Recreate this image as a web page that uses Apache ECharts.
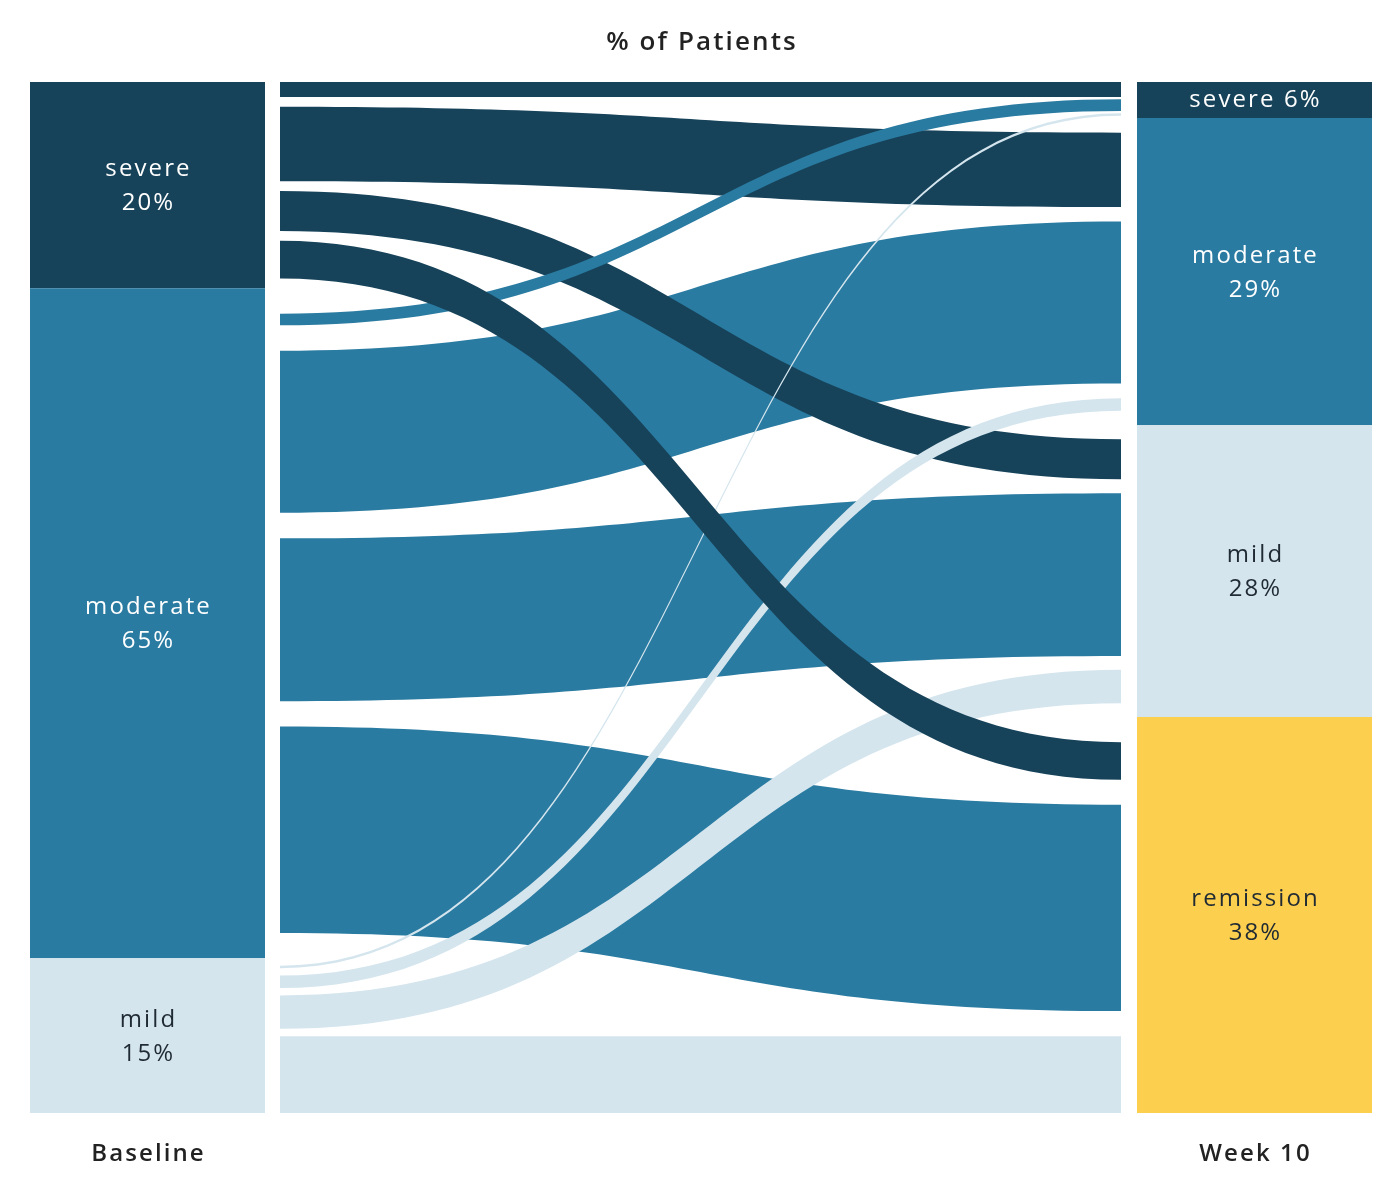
<!DOCTYPE html>
<html><head><meta charset="utf-8">
<script src="https://cdn.jsdelivr.net/npm/echarts@6/dist/echarts.min.js"></script>
<style>html,body{margin:0;padding:0;background:#fff}#c{width:1400px;height:1190px}</style>
</head><body><div id="c"></div>
<script>
// ---- data ----
const chartTitle = '% of Patients';
const columnNames = ['Baseline', 'Week 10'];
const baselineStates = ['severe', 'moderate', 'mild'];
const week10States = ['severe', 'moderate', 'mild', 'remission'];
const baselineLabels = ['20%', '65%', '15%'];
const week10Labels = ['6%', '29%', '28%', '38%'];
// % of all patients moving from a baseline state to each week-10 state
// (order: severe, moderate, mild, remission)
const fromSevere = [1.8, 8.9, 4.8, 4.5];
const fromModerate = [1.4, 19.4, 19.5, 24.7];
const fromMild = [0.3, 1.5, 4.0, 9.2];

// ---- styles / layout constants ----
const flows = [fromSevere, fromModerate, fromMild];
const COLORS = {severe: '#17435a', moderate: '#2a7ba1', mild: '#d4e5ee', remission: '#fdcf4f'};
const LABEL_COLORS = {severe: '#ffffff', moderate: '#ffffff', mild: '#1f2a33', remission: '#1f2a33'};
const FONT = '"Open Sans", "Noto Sans", sans-serif';
const K = 0.81; // flow band thickness relative to node size
const X = {l0: 0, l1: 235 / 1342, f0: 250 / 1342, f1: 1091 / 1342, r0: 1107 / 1342, r1: 1};

function stack(values) {
  let y = 0;
  return values.map(v => { const n = {top: y, value: v}; y += v; return n; });
}
const sum = a => a.reduce((s, v) => s + v, 0);
const leftNodes = stack(flows.map(sum));
const rightNodes = stack(week10States.map((_, j) => sum(flows.map(r => r[j]))));
const TOTAL = sum(flows.map(sum));

function distribute(node, vals, idx, count) {
  const thick = vals.map(v => v * K);
  const free = node.value - sum(thick);
  const slots = (vals.length - 1) + (idx > 0 ? 1 : 0) + (idx < count - 1 ? 1 : 0);
  const gap = free / slots;
  let y = node.top + (idx > 0 ? gap : 0);
  return thick.map(t => { const s = {y0: y, y1: y + t}; y += t + gap; return s; });
}
const leftPos = leftNodes.map((n, i) => distribute(n, flows[i], i, leftNodes.length));
const rightPos = rightNodes.map((n, j) => distribute(n, flows.map(r => r[j]), j, rightNodes.length));

const drawOrder = [[1,1],[1,2],[1,3],[0,0],[0,1],[0,2],[1,0],[2,0],[2,1],[2,2],[2,3],[0,3]];

const nodeItems = [];
leftNodes.forEach((n, i) => nodeItems.push([0, i]));
rightNodes.forEach((n, j) => nodeItems.push([1, j]));

const option = {
  animation: false,
  backgroundColor: '#ffffff',
  grid: {left: 30, right: 28, top: 82, bottom: 77},
  xAxis: {type: 'value', min: 0, max: 1, show: false},
  yAxis: {type: 'value', min: 0, max: TOTAL, inverse: true, show: false},
  series: [
    {
      type: 'custom', coordinateSystem: 'cartesian2d', silent: true, clip: false,
      data: drawOrder,
      renderItem: function (params, api) {
        const i = api.value(0), j = api.value(1);
        const L = leftPos[i][j], R = rightPos[j][i];
        const a = api.coord([X.f0, L.y0]), b = api.coord([X.f1, R.y0]);
        const c = api.coord([X.f1, R.y1]), d = api.coord([X.f0, L.y1]);
        const xm = (a[0] + b[0]) / 2;
        const p = 'M' + a[0] + ',' + a[1] +
          ' C' + xm + ',' + a[1] + ' ' + xm + ',' + b[1] + ' ' + b[0] + ',' + b[1] +
          ' L' + c[0] + ',' + c[1] +
          ' C' + xm + ',' + c[1] + ' ' + xm + ',' + d[1] + ' ' + d[0] + ',' + d[1] + ' Z';
        return {type: 'path', shape: {pathData: p}, style: {fill: COLORS[baselineStates[i]]}};
      }
    },
    {
      type: 'custom', coordinateSystem: 'cartesian2d', silent: true, clip: false,
      data: nodeItems,
      renderItem: function (params, api) {
        const col = api.value(0), idx = api.value(1);
        const node = col === 0 ? leftNodes[idx] : rightNodes[idx];
        const state = col === 0 ? baselineStates[idx] : week10States[idx];
        const pct = col === 0 ? baselineLabels[idx] : week10Labels[idx];
        const x0 = col === 0 ? X.l0 : X.r0, x1 = col === 0 ? X.l1 : X.r1;
        const p0 = api.coord([x0, node.top]), p1 = api.coord([x1, node.top + node.value]);
        const h = p1[1] - p0[1];
        const small = h < 60;
        const children = [
          {type: 'rect', shape: {x: p0[0], y: p0[1], width: p1[0] - p0[0], height: h},
           style: {fill: COLORS[state]}},
          {type: 'text', x: (p0[0] + p1[0]) / 2 + 1, y: (p0[1] + p1[1]) / 2 + (small ? 0 : 1),
           style: {text: small ? state + ' ' + pct : state + '\n' + pct,
                   fill: LABEL_COLORS[state], fontFamily: FONT, fontSize: 24, lineHeight: 34,
                   align: 'center', verticalAlign: 'middle'}}
        ];
        if (idx === 0) {
          const bottom = api.coord([x0, TOTAL]);
          children.push({type: 'text', x: (p0[0] + p1[0]) / 2 + 1, y: bottom[1] + 41,
            style: {text: columnNames[col], fill: '#222222', fontFamily: FONT, fontSize: 24,
                    fontWeight: 600, align: 'center', verticalAlign: 'middle'}});
        }
        if (col === 0 && idx === 0) {
          const top = api.coord([0.5, 0]);
          children.push({type: 'text', x: top[0] + 1, y: top[1] - 39,
            style: {text: chartTitle, fill: '#222222', fontFamily: FONT, fontSize: 26,
                    fontWeight: 600, align: 'center', verticalAlign: 'middle'}});
        }
        return {type: 'group', children: children};
      }
    }
  ]
};

const chart = echarts.init(document.getElementById('c'), null, {renderer: 'canvas'});
chart.setOption(option);
// the reference uses slightly tracked-out lettering: apply to the canvas context, then redraw
document.querySelectorAll('#c canvas').forEach(cv => {
  const ctx = cv.getContext('2d');
  if (ctx && 'letterSpacing' in ctx) ctx.letterSpacing = '2.1px';
});
chart.clear();
chart.setOption(option);
</script>
</body></html>
